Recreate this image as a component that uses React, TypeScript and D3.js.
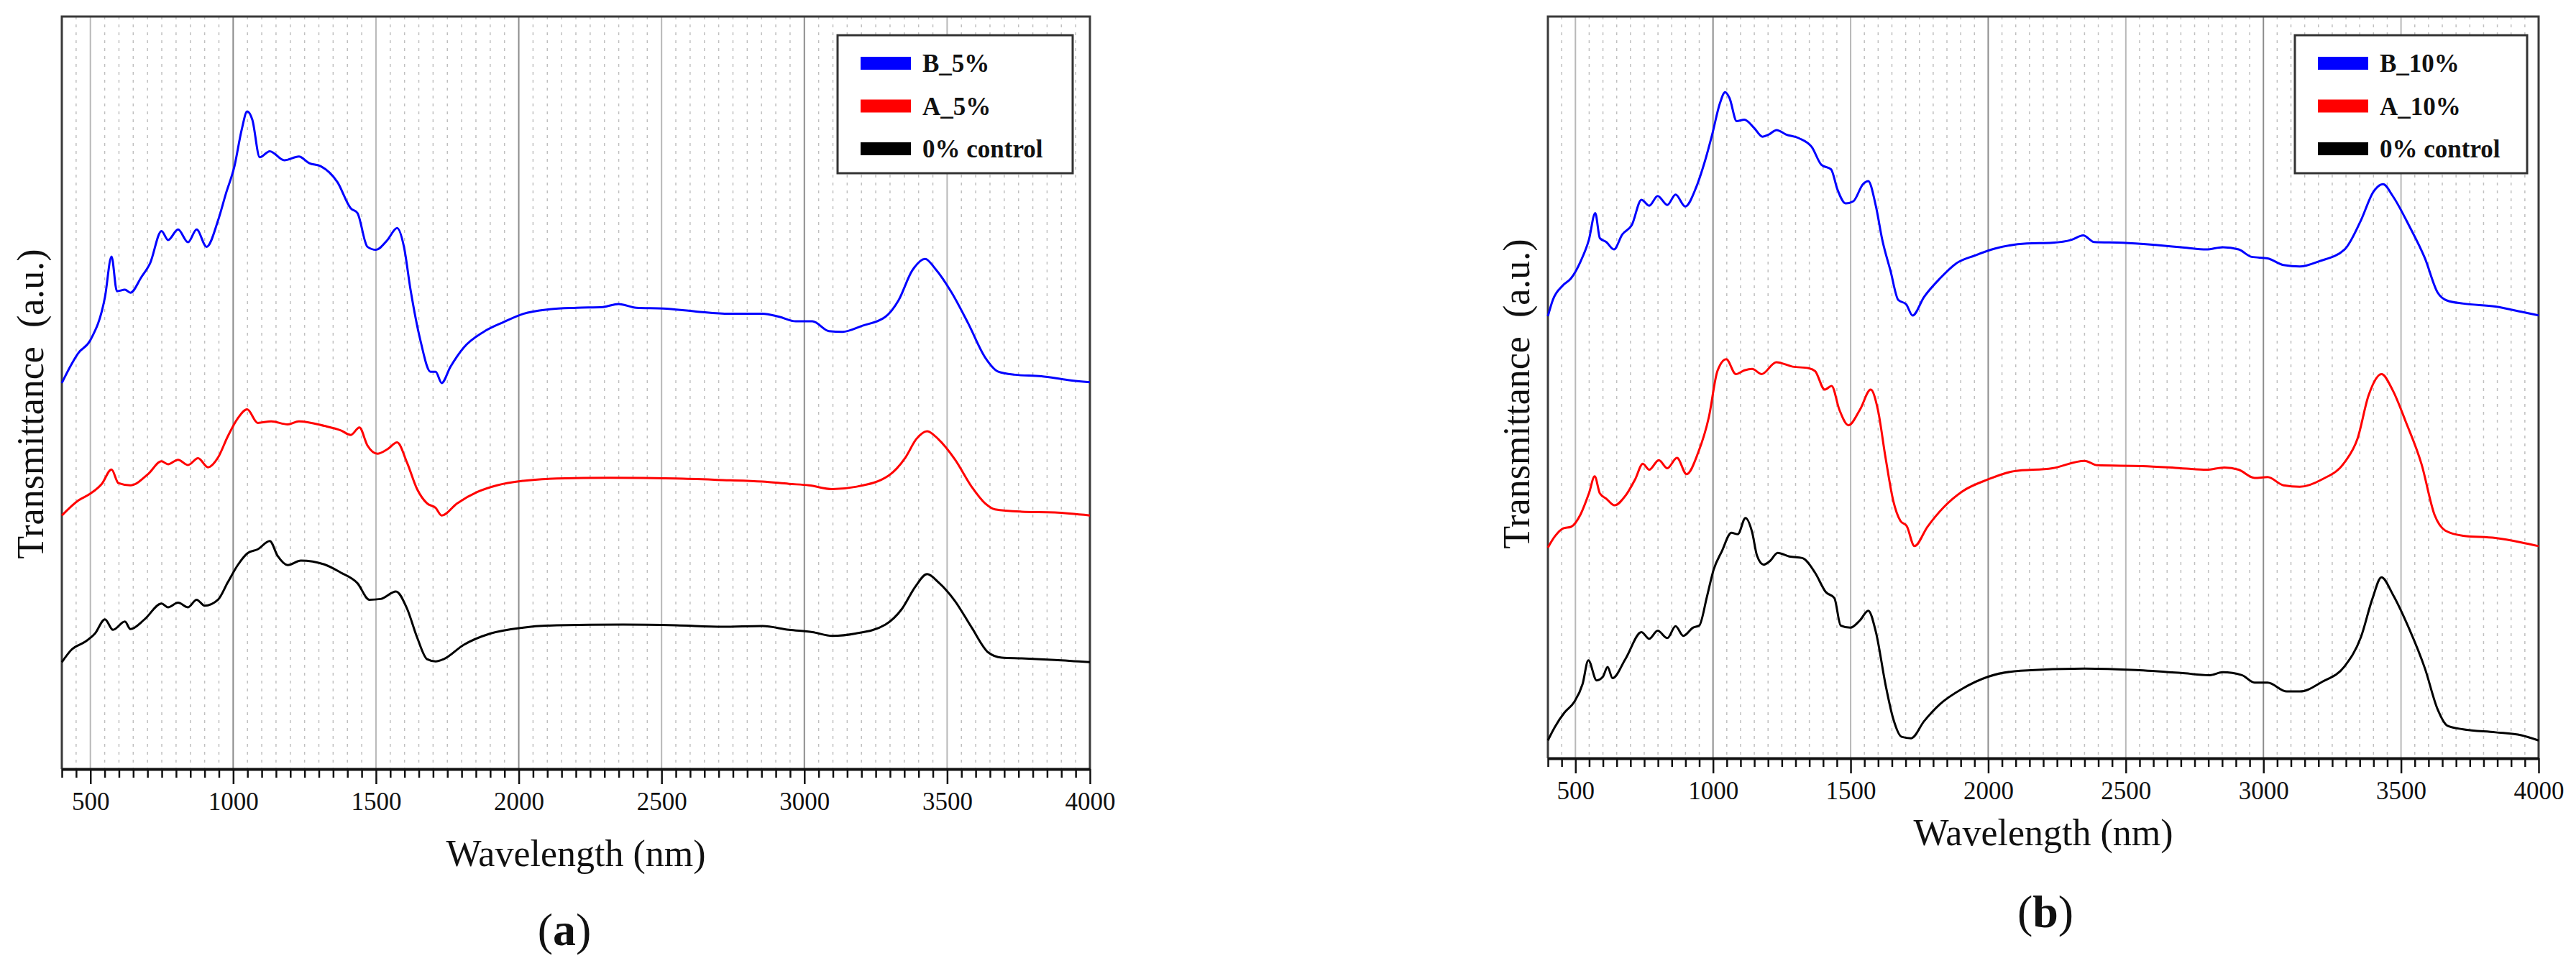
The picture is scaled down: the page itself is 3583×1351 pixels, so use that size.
import * as d3 from "d3";
import React from "react";

type Pt = [number, number];

// wavelength (nm), transmittance (a.u., 0-100 of the plot height)
const bluePanelA: Pt[] = [
  [400, 51.3], [458, 55.3], [500, 57.0], [551, 62.7], [574, 68.1], [593, 63.5],
  [621, 63.7], [640, 63.3], [679, 65.4], [709, 67.2], [749, 71.5], [772, 70.3],
  [807, 71.7], [842, 70.0], [872, 71.7], [907, 69.4], [947, 72.9], [974, 76.4],
  [1005, 80.2], [1030, 85.0], [1049, 87.4], [1067, 86.3], [1093, 81.3], [1128, 82.1],
  [1179, 80.9], [1230, 81.4], [1267, 80.5], [1307, 80.1], [1365, 78.0], [1412, 74.5],
  [1435, 73.9], [1470, 69.4], [1500, 69.0], [1540, 70.3], [1574, 71.9], [1598, 69.4],
  [1621, 63.7], [1656, 56.9], [1691, 52.8], [1709, 52.8], [1730, 51.3], [1760, 53.4],
  [1807, 56.0], [1877, 58.1], [1947, 59.4], [2016, 60.5], [2109, 61.1], [2202, 61.3],
  [2295, 61.4], [2349, 61.8], [2412, 61.3], [2505, 61.2], [2621, 60.8], [2737, 60.5],
  [2853, 60.5], [2912, 60.1], [2970, 59.5], [3028, 59.5], [3086, 58.2], [3133, 58.1],
  [3202, 58.9], [3284, 60.1], [3330, 62.3], [3377, 66.2], [3423, 67.8], [3458, 66.5],
  [3516, 63.3], [3574, 59.2], [3633, 54.7], [3679, 52.8], [3737, 52.4], [3830, 52.2],
  [3923, 51.7], [4000, 51.4],
];

const redPanelA: Pt[] = [
  [400, 33.7], [458, 35.7], [500, 36.6], [540, 37.9], [574, 39.8], [598, 38.0],
  [640, 37.7], [702, 39.2], [749, 40.9], [772, 40.5], [807, 41.1], [842, 40.4],
  [877, 41.3], [912, 40.1], [947, 41.4], [981, 44.2], [1016, 46.6], [1049, 47.8],
  [1086, 46.0], [1133, 46.2], [1191, 45.8], [1230, 46.2], [1319, 45.6], [1377, 45.0],
  [1412, 44.4], [1442, 45.4], [1470, 43.0], [1505, 41.9], [1540, 42.5], [1574, 43.4],
  [1609, 40.7], [1644, 37.2], [1679, 35.3], [1709, 34.7], [1730, 33.7], [1784, 35.3],
  [1854, 36.8], [1924, 37.7], [2016, 38.3], [2133, 38.6], [2319, 38.7], [2551, 38.6],
  [2714, 38.4], [2853, 38.2], [2946, 37.9], [3016, 37.7], [3098, 37.2], [3179, 37.5],
  [3295, 39.0], [3354, 41.4], [3393, 43.9], [3430, 44.9], [3470, 43.8], [3528, 41.1],
  [3586, 37.5], [3633, 35.3], [3668, 34.5], [3761, 34.2], [3877, 34.1], [4000, 33.7],
];

const blackPanelA: Pt[] = [
  [400, 14.2], [435, 15.9], [481, 16.9], [516, 18.0], [551, 19.9], [579, 18.5],
  [621, 19.6], [640, 18.6], [690, 19.9], [749, 22.0], [772, 21.5], [807, 22.1],
  [842, 21.5], [872, 22.5], [900, 21.7], [947, 22.5], [981, 24.8], [1016, 27.1],
  [1051, 28.7], [1086, 29.2], [1128, 30.3], [1156, 28.3], [1191, 27.1], [1237, 27.7],
  [1319, 27.2], [1377, 26.1], [1435, 24.7], [1477, 22.5], [1516, 22.6], [1570, 23.6],
  [1609, 21.3], [1644, 17.5], [1679, 14.6], [1709, 14.3], [1737, 14.6], [1807, 16.5],
  [1900, 18.0], [2016, 18.8], [2133, 19.1], [2365, 19.2], [2551, 19.1], [2714, 18.9],
  [2853, 19.0], [2946, 18.5], [3028, 18.2], [3098, 17.7], [3179, 18.0], [3284, 19.2],
  [3342, 21.3], [3388, 24.2], [3430, 25.9], [3470, 24.8], [3528, 22.3], [3586, 18.8],
  [3644, 15.5], [3691, 14.8], [3761, 14.7], [3877, 14.5], [4000, 14.2],
];

const bluePanelB: Pt[] = [
  [400, 59.6], [418, 61.8], [456, 63.8], [484, 64.7], [519, 67.0], [549, 69.9],
  [572, 73.5], [589, 70.1], [612, 69.6], [640, 68.6], [670, 70.6], [705, 71.9],
  [740, 75.3], [768, 74.5], [799, 75.8], [834, 74.6], [864, 76.0], [899, 74.4],
  [939, 77.0], [969, 80.3], [997, 84.1], [1025, 88.3], [1044, 89.8], [1060, 89.0],
  [1086, 85.9], [1114, 86.1], [1149, 85.0], [1180, 83.8], [1203, 84.1], [1231, 84.7],
  [1265, 84.1], [1312, 83.6], [1359, 82.4], [1394, 80.0], [1429, 79.4], [1452, 76.7],
  [1482, 74.8], [1510, 75.1], [1545, 77.4], [1564, 77.8], [1592, 74.4], [1615, 69.9],
  [1645, 65.7], [1673, 61.8], [1702, 61.2], [1725, 59.7], [1767, 62.2], [1825, 64.7],
  [1883, 66.7], [1953, 67.8], [2023, 68.7], [2140, 69.4], [2233, 69.5], [2303, 69.9],
  [2345, 70.5], [2385, 69.6], [2490, 69.5], [2607, 69.2], [2700, 68.9], [2793, 68.6],
  [2852, 68.9], [2910, 68.6], [2957, 67.6], [3015, 67.4], [3073, 66.5], [3132, 66.3],
  [3202, 67.0], [3295, 68.6], [3354, 72.5], [3400, 76.4], [3435, 77.4], [3470, 75.8],
  [3528, 71.9], [3587, 67.4], [3633, 62.8], [3668, 61.7], [3726, 61.3], [3843, 60.9],
  [3937, 60.2], [4000, 59.7],
];

const redPanelB: Pt[] = [
  [400, 28.4], [425, 29.9], [456, 31.0], [484, 31.2], [519, 32.9], [549, 35.7],
  [570, 38.0], [589, 35.7], [612, 35.0], [642, 34.1], [682, 35.4], [717, 37.6],
  [745, 39.7], [768, 38.9], [803, 40.2], [834, 39.1], [869, 40.5], [904, 38.3],
  [946, 41.2], [985, 46.0], [1016, 52.2], [1048, 53.8], [1083, 51.8], [1114, 52.3],
  [1142, 52.5], [1177, 51.8], [1230, 53.4], [1289, 52.8], [1347, 52.6], [1371, 52.2],
  [1406, 49.7], [1431, 50.2], [1459, 47.0], [1492, 44.9], [1534, 47.0], [1573, 49.7],
  [1599, 47.0], [1627, 40.5], [1655, 34.7], [1681, 32.0], [1704, 31.3], [1732, 28.6],
  [1779, 31.2], [1837, 33.8], [1907, 36.0], [2000, 37.6], [2093, 38.7], [2233, 39.1],
  [2350, 40.1], [2397, 39.5], [2560, 39.4], [2700, 39.1], [2793, 38.9], [2858, 39.2],
  [2910, 38.9], [2968, 37.8], [3015, 37.9], [3073, 36.8], [3132, 36.6], [3213, 37.6],
  [3295, 39.9], [3342, 43.1], [3382, 48.9], [3429, 51.8], [3470, 49.6], [3517, 45.4],
  [3575, 39.6], [3622, 32.8], [3661, 30.7], [3726, 30.0], [3843, 29.7], [3937, 29.1],
  [4000, 28.6],
];

const blackPanelB: Pt[] = [
  [400, 2.4], [425, 4.2], [461, 6.2], [496, 7.6], [526, 10.0], [547, 13.2],
  [577, 10.5], [600, 11.0], [617, 12.3], [635, 10.8], [682, 13.4], [740, 17.0],
  [768, 16.1], [799, 17.2], [834, 16.2], [864, 17.8], [892, 16.5], [927, 17.6],
  [950, 17.9], [978, 21.8], [1002, 25.4], [1032, 27.9], [1067, 30.4], [1090, 30.2],
  [1118, 32.4], [1142, 30.5], [1160, 27.3], [1184, 26.1], [1207, 26.6], [1235, 27.7],
  [1277, 27.2], [1324, 27.0], [1371, 25.0], [1410, 22.4], [1441, 21.6], [1464, 17.9],
  [1499, 17.6], [1534, 18.6], [1564, 19.9], [1592, 17.0], [1627, 9.9], [1655, 5.3],
  [1685, 2.9], [1720, 2.7], [1767, 5.0], [1825, 7.3], [1907, 9.4], [2000, 11.0],
  [2117, 11.8], [2350, 12.1], [2537, 11.9], [2700, 11.5], [2805, 11.2], [2852, 11.6],
  [2922, 11.2], [2968, 10.2], [3015, 10.2], [3085, 9.0], [3132, 9.0], [3213, 10.3],
  [3295, 12.4], [3354, 16.3], [3396, 21.5], [3429, 24.4], [3470, 22.1], [3528, 17.6],
  [3587, 12.1], [3633, 6.6], [3668, 4.4], [3726, 3.9], [3843, 3.5], [3937, 3.1],
  [4000, 2.4],
];

const legendA = ["B_5%", "A_5%", "0% control"];
const legendB = ["B_10%", "A_10%", "0% control"];
const seriesColors = ["#0000ff", "#ff0000", "#000000"];
const majorTicks = [500, 1000, 1500, 2000, 2500, 3000, 3500, 4000];
const minorTicks = d3.range(400, 4001, 50).filter((v) => v % 500 !== 0);
const xTitle = "Wavelength (nm)";
const yTitle = "Transmittance  (a.u.)";
const captions = ["a", "b"];

const serif = "'Liberation Serif', 'Times New Roman', serif";

type PanelCfg = {
  left: number;
  right: number;
  top: number;
  bottom: number;
  series: Pt[][];
  legend: string[];
  legendLeft: number;
  legendRight: number;
  yTitleX: number;
  yTitleY: number;
  xTitleY: number;
  caption: string;
  captionX: number;
  captionY: number;
};

const panels: PanelCfg[] = [
  {
    left: 86, right: 1516, top: 23, bottom: 1070,
    series: [bluePanelA, redPanelA, blackPanelA],
    legend: legendA, legendLeft: 1165, legendRight: 1492,
    yTitleX: 60, yTitleY: 562, xTitleY: 1205,
    caption: captions[0], captionX: 785, captionY: 1315,
  },
  {
    left: 2153, right: 3531, top: 23, bottom: 1055,
    series: [bluePanelB, redPanelB, blackPanelB],
    legend: legendB, legendLeft: 3192, legendRight: 3515,
    yTitleX: 2127, yTitleY: 548, xTitleY: 1176,
    caption: captions[1], captionX: 2845, captionY: 1290,
  },
];

const width = 3583;
const height = 1351;

const drawPanel = (svg: d3.Selection<SVGSVGElement, unknown, null, undefined>, p: PanelCfg) => {
  const g = svg.append("g");
  const x = d3.scaleLinear().domain([400, 4000]).range([p.left, p.right]);
  const y = d3.scaleLinear().domain([0, 100]).range([p.bottom, p.top]);

  // dotted minor grid
  g.append("g")
    .selectAll("line")
    .data(minorTicks.filter((v) => v > 400 && v < 4000))
    .join("line")
    .attr("x1", (d) => x(d))
    .attr("x2", (d) => x(d))
    .attr("y1", p.top)
    .attr("y2", p.bottom)
    .attr("stroke", "#c0c0c0")
    .attr("stroke-width", 1.5)
    .attr("stroke-dasharray", "4 7");

  // solid major grid
  g.append("g")
    .selectAll("line")
    .data(majorTicks.filter((v) => v < 4000))
    .join("line")
    .attr("x1", (d) => x(d))
    .attr("x2", (d) => x(d))
    .attr("y1", p.top)
    .attr("y2", p.bottom)
    .attr("stroke", (d) => (d % 1000 === 0 ? "#8c8c8c" : "#b8b8b8"))
    .attr("stroke-width", 2);

  // frame
  g.append("path")
    .attr("d", `M${p.left},${p.bottom}V${p.top}H${p.right}V${p.bottom}`)
    .attr("fill", "none")
    .attr("stroke", "#3a3a3a")
    .attr("stroke-width", 3);

  // curves
  const line = d3
    .line<Pt>()
    .x((d) => x(d[0]))
    .y((d) => y(d[1]))
    .curve(d3.curveMonotoneX);

  g.append("g")
    .selectAll("path")
    .data(p.series)
    .join("path")
    .attr("d", (d) => line(d) || "")
    .attr("fill", "none")
    .attr("stroke", (_d, i) => seriesColors[i])
    .attr("stroke-width", 3)
    .attr("stroke-linejoin", "round");

  // bottom axis: minor ticks then major ticks with labels
  g.append("g")
    .attr("transform", `translate(0,${p.bottom})`)
    .call(d3.axisBottom(x).tickValues(minorTicks).tickSize(12).tickSizeOuter(0).tickFormat(() => ""))
    .call((a) => a.select(".domain").remove())
    .call((a) => a.selectAll(".tick line").attr("stroke", "#111").attr("stroke-width", 2.5));

  const ax = g
    .append("g")
    .attr("transform", `translate(0,${p.bottom})`)
    .call(d3.axisBottom(x).tickValues(majorTicks).tickSize(21).tickSizeOuter(0).tickPadding(11).tickFormat(d3.format("d")));
  ax.select(".domain").attr("stroke", "#111").attr("stroke-width", 4);
  ax.selectAll(".tick line").attr("stroke", "#111").attr("stroke-width", 2.5);
  ax.selectAll(".tick text")
    .attr("font-family", serif)
    .attr("font-size", 35)
    .attr("fill", "#111");

  // axis titles
  g.append("text")
    .text(xTitle)
    .attr("x", (p.left + p.right) / 2)
    .attr("y", p.xTitleY)
    .attr("text-anchor", "middle")
    .attr("font-family", serif)
    .attr("font-size", 52)
    .attr("fill", "#111");

  g.append("text")
    .text(yTitle)
    .attr("transform", `translate(${p.yTitleX},${p.yTitleY}) rotate(-90)`)
    .attr("text-anchor", "middle")
    .attr("font-family", serif)
    .attr("font-size", 52)
    .attr("fill", "#111")
    .style("white-space", "pre");

  // legend
  const lg = g.append("g");
  lg.append("rect")
    .attr("x", p.legendLeft)
    .attr("y", 49)
    .attr("width", p.legendRight - p.legendLeft)
    .attr("height", 192)
    .attr("fill", "#fff")
    .attr("stroke", "#333")
    .attr("stroke-width", 3);
  const items = lg
    .selectAll("g")
    .data(p.legend)
    .join("g")
    .attr("transform", (_d, i) => `translate(${p.legendLeft},${88 + i * 59.5})`);
  items
    .append("rect")
    .attr("x", 32)
    .attr("y", -9)
    .attr("width", 70)
    .attr("height", 18)
    .attr("fill", (_d, i) => seriesColors[i]);
  items
    .append("text")
    .text((d) => d)
    .attr("x", 118)
    .attr("y", 12)
    .attr("font-family", serif)
    .attr("font-weight", "bold")
    .attr("font-size", 35)
    .attr("fill", "#111");

  // caption
  const cap = g
    .append("text")
    .attr("x", p.captionX)
    .attr("y", p.captionY)
    .attr("text-anchor", "middle")
    .attr("font-family", serif)
    .attr("font-size", 64)
    .attr("fill", "#111");
  cap.append("tspan").text("(");
  cap.append("tspan").attr("font-weight", "bold").text(p.caption);
  cap.append("tspan").text(")");
};

export default function App() {
  const ref = React.useRef<SVGSVGElement | null>(null);

  React.useEffect(() => {
    if (!ref.current) return;
    const svg = d3.select(ref.current);
    svg.selectAll("*").remove();
    svg.append("rect").attr("width", width).attr("height", height).attr("fill", "#fff");
    panels.forEach((p) => drawPanel(svg, p));
  }, []);

  return (
    <svg
      ref={ref}
      width={width}
      height={height}
      style={{ position: "absolute", left: 0, top: 0, display: "block" }}
    />
  );
}
